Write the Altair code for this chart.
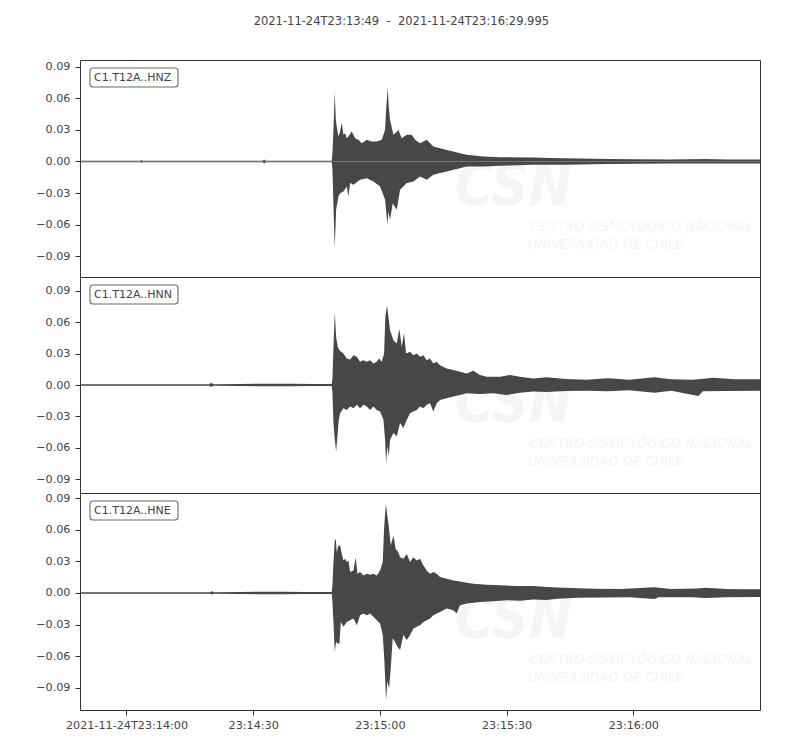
import altair as alt
import pandas as pd

TITLE = "2021-11-24T23:13:49\u00a0\u00a0-\u00a0\u00a02021-11-24T23:16:29.995"
channels = ["C1.T12A..HNZ", "C1.T12A..HNN", "C1.T12A..HNE"]
y_domains = [[-0.1095, 0.0962], [-0.1029, 0.1029], [-0.1114, 0.0952]]
panel_heights = [217, 216, 217]
x_domain = [0, 160.995]  # seconds after 23:13:49
y_ticks = [-0.09, -0.06, -0.03, 0.0, 0.03, 0.06, 0.09]
x_tick_seconds = [11, 41, 71, 101, 131]
x_tick_labels = ["2021-11-24T23:14:00", "23:14:30", "23:15:00", "23:15:30", "23:16:00"]
watermark_lines = ["CSN", "CENTRO SISMOLÓGICO NACIONAL", "UNIVERSIDAD DE CHILE"]

# envelopes (seconds after start, value)
hnz_upper = [(0, 0.0008), (14.3, 0.0008), (14.6, 0.0014), (14.9, 0.0008), (43.2, 0.0008), (43.6, 0.0020),
             (44.0, 0.0008), (59.6, 0.0008), (59.77, 0.0079), (60.01, 0.030), (60.32, 0.0663), (60.56, 0.040),
             (60.79, 0.0331), (61.19, 0.0237), (61.58, 0.0284), (61.98, 0.0369), (62.37, 0.0253), (62.77, 0.0268),
             (63.16, 0.0221), (63.55, 0.0237), (64.34, 0.0284), (65.13, 0.0221), (65.92, 0.0205), (66.71, 0.0174),
             (67.89, 0.0205), (69.07, 0.0189), (70.26, 0.0189), (71.44, 0.0205), (72.23, 0.0300), (72.47, 0.049),
             (72.86, 0.0701), (73.10, 0.052), (73.41, 0.0395), (74.20, 0.0253), (74.99, 0.028), (75.38, 0.030),
             (76.17, 0.0221), (77.36, 0.0253), (78.54, 0.0253), (79.33, 0.0205), (80.51, 0.0174), (82.09, 0.0205),
             (83.66, 0.0142), (85.24, 0.0126), (86.82, 0.011), (88.40, 0.0095), (89.97, 0.0079), (91.55, 0.0063),
             (95.49, 0.0047), (99.44, 0.0041), (107.32, 0.0038), (111.27, 0.0032), (118, 0.0028), (125, 0.0024),
             (132, 0.0022), (140, 0.0020), (148, 0.0024), (153, 0.0020), (160.995, 0.0020)]
hnz_lower = [(0, -0.0008), (14.3, -0.0008), (14.6, -0.0012), (14.9, -0.0008), (43.2, -0.0008), (43.6, -0.0018),
             (44.0, -0.0008), (59.6, -0.0008), (59.77, -0.0079), (60.01, -0.0426), (60.32, -0.0821), (60.64, -0.0458),
             (61.19, -0.0331), (61.58, -0.030), (62.37, -0.0284), (63.16, -0.0237), (63.55, -0.0331), (63.95, -0.0205),
             (64.74, -0.0221), (66.31, -0.0174), (67.89, -0.0158), (69.47, -0.0189), (71.05, -0.0237), (72.23, -0.0363),
             (72.78, -0.060), (73.02, -0.0473), (73.41, -0.0552), (74.04, -0.0395), (74.99, -0.0458), (75.78, -0.0268),
             (77.36, -0.0205), (78.93, -0.0189), (80.51, -0.0142), (82.09, -0.0174), (83.66, -0.0126), (85.24, -0.011),
             (86.82, -0.0095), (88.40, -0.0079), (89.97, -0.0063), (91.55, -0.0047), (95.49, -0.0047), (99.44, -0.0041),
             (107.32, -0.0032), (115, -0.0030), (125, -0.0024), (140, -0.0020), (160.995, -0.0020)]

hnn_upper = [(0, 0.0008), (30.6, 0.0008), (31.0, 0.0022), (31.6, 0.0008), (38, 0.0010), (42, 0.0013), (46, 0.0011),
             (50, 0.0012), (55, 0.0009), (59.6, 0.0009), (59.77, 0.0063), (60.01, 0.0363), (60.32, 0.0694),
             (60.64, 0.0458), (61.03, 0.0363), (61.43, 0.0331), (61.82, 0.0316), (62.37, 0.030), (63.16, 0.0253),
             (63.95, 0.0243), (64.74, 0.0284), (65.53, 0.0268), (66.31, 0.0221), (67.10, 0.0237), (67.89, 0.0221),
             (68.68, 0.0237), (69.47, 0.0205), (70.26, 0.0221), (70.81, 0.0253), (71.44, 0.0221), (71.99, 0.030),
             (72.31, 0.0663), (72.70, 0.0758), (73.02, 0.0647), (73.41, 0.0521), (74.20, 0.0426), (74.99, 0.0395),
             (75.62, 0.0537), (76.17, 0.0363), (76.72, 0.0496), (77.20, 0.030), (78.14, 0.0316), (78.93, 0.0284),
             (79.72, 0.030), (80.51, 0.0268), (81.30, 0.0284), (82.09, 0.0237), (82.88, 0.0253), (83.66, 0.0205),
             (84.45, 0.0221), (85.24, 0.0189), (86.82, 0.0158), (88.40, 0.0142), (89.97, 0.0126), (91.55, 0.011),
             (93.13, 0.0136), (94.70, 0.0095), (96.28, 0.0079), (99.44, 0.0079), (101.80, 0.0095), (104.17, 0.0079),
             (107.32, 0.0063), (110.48, 0.0073), (115, 0.0058), (120, 0.0050), (125, 0.0065), (130, 0.0050),
             (136, 0.0075), (140, 0.0055), (145, 0.0050), (150, 0.0070), (155, 0.0055), (160.995, 0.0055)]
hnn_lower = [(0, -0.0008), (30.6, -0.0008), (31.0, -0.0018), (31.6, -0.0008), (38, -0.0010), (42, -0.0012),
             (46, -0.0011), (50, -0.0012), (55, -0.0009), (59.6, -0.0009), (59.77, -0.0079), (60.01, -0.0363),
             (60.32, -0.0521), (60.64, -0.0631), (60.95, -0.0489), (61.27, -0.0331), (61.58, -0.0268), (62.37, -0.0221),
             (63.16, -0.0237), (63.95, -0.0205), (64.74, -0.0221), (65.53, -0.0189), (66.31, -0.0221), (67.10, -0.0189),
             (67.89, -0.0205), (68.68, -0.0237), (69.47, -0.0205), (70.26, -0.0237), (71.05, -0.0253), (71.84, -0.0331),
             (72.23, -0.0521), (72.47, -0.0742), (72.78, -0.0584), (73.10, -0.0679), (73.41, -0.0521), (74.20, -0.0458),
             (74.99, -0.0489), (75.78, -0.0363), (76.57, -0.041), (77.36, -0.0331), (78.14, -0.0268), (78.93, -0.0253),
             (79.72, -0.0237), (80.51, -0.0205), (81.30, -0.0221), (82.09, -0.0189), (82.88, -0.0174), (83.66, -0.0253),
             (84.45, -0.0174), (85.24, -0.0142), (86.82, -0.0126), (88.40, -0.011), (89.97, -0.0095), (91.55, -0.0079),
             (94.70, -0.0085), (97.86, -0.0079), (101.01, -0.0095), (104.17, -0.0073), (107.32, -0.0063),
             (110.48, -0.0066), (115, -0.0058), (120, -0.0055), (125, -0.0060), (130, -0.0050), (136, -0.0075),
             (140, -0.0055), (146.4, -0.0104), (147.5, -0.0060), (153, -0.0058), (160.995, -0.0055)]

hne_upper = [(0, 0.0008), (30.8, 0.0008), (31.2, 0.0016), (31.7, 0.0008), (38, 0.0009), (43, 0.0012), (48, 0.0011),
             (53, 0.0009), (59.6, 0.0009), (59.77, 0.0073), (60.01, 0.0294), (60.32, 0.0499), (60.56, 0.0515),
             (60.79, 0.0388), (61.19, 0.0451), (61.58, 0.0451), (61.98, 0.0372), (62.37, 0.0309), (62.77, 0.0325),
             (63.16, 0.0294), (63.55, 0.0309), (63.95, 0.0199), (64.74, 0.0215), (65.29, 0.0341), (65.68, 0.0183),
             (66.31, 0.0199), (67.10, 0.0167), (67.89, 0.0183), (68.68, 0.0174), (69.47, 0.0183), (70.26, 0.0167),
             (71.05, 0.0215), (71.68, 0.0294), (71.99, 0.0609), (72.39, 0.0846), (72.78, 0.0735), (73.18, 0.0609),
             (73.57, 0.0451), (74.20, 0.0546), (74.75, 0.042), (75.38, 0.0388), (75.78, 0.0341), (76.57, 0.0325),
             (77.36, 0.0372), (78.14, 0.0294), (78.93, 0.0341), (79.72, 0.0309), (80.51, 0.0325), (81.30, 0.0262),
             (82.09, 0.0215), (82.88, 0.0183), (83.66, 0.0199), (84.45, 0.0183), (85.24, 0.0152), (86.82, 0.0136),
             (88.40, 0.012), (89.97, 0.011), (91.55, 0.0098), (93.13, 0.0088), (96.28, 0.0079), (99.44, 0.0073),
             (103.38, 0.0066), (107.32, 0.0066), (110.48, 0.0057), (113, 0.0052), (118, 0.0045), (122, 0.0040),
             (128, 0.0038), (136, 0.0055), (140, 0.0038), (146, 0.0042), (148, 0.0050), (153, 0.0038), (157, 0.0035),
             (160.995, 0.0035)]
hne_lower = [(0, -0.0008), (30.8, -0.0008), (31.2, -0.0014), (31.7, -0.0008), (38, -0.0009), (43, -0.0012),
             (48, -0.0011), (53, -0.0009), (59.6, -0.0009), (59.77, -0.0085), (60.01, -0.0275), (60.32, -0.0559),
             (60.64, -0.0464), (60.95, -0.048), (61.43, -0.048), (61.74, -0.0275), (62.37, -0.0322), (63.16, -0.0275),
             (63.95, -0.0259), (64.74, -0.0243), (65.53, -0.0306), (66.31, -0.0211), (67.10, -0.0196), (67.89, -0.0211),
             (68.68, -0.0196), (69.47, -0.0227), (70.26, -0.0259), (71.05, -0.029), (71.68, -0.0401), (72.07, -0.0653),
             (72.47, -0.1016), (72.78, -0.0843), (73.18, -0.0906), (73.57, -0.0717), (74.04, -0.0432), (74.60, -0.0464),
             (75.15, -0.0511), (75.78, -0.0543), (76.57, -0.0401), (77.36, -0.0448), (78.14, -0.0401), (78.93, -0.0338),
             (79.72, -0.0322), (80.51, -0.0306), (81.30, -0.0275), (82.09, -0.0259), (82.88, -0.0243), (83.66, -0.0211),
             (85.24, -0.018), (86.82, -0.0148), (88.40, -0.0164), (89.18, -0.0196), (89.97, -0.0117), (91.55, -0.0101),
             (94.70, -0.0085), (97.86, -0.0079), (101.01, -0.0069), (104.17, -0.0073), (107.32, -0.0063),
             (110.48, -0.0066), (113, -0.0055), (118, -0.0045), (124, -0.0042), (130, -0.0040), (136, -0.0058),
             (137, -0.0040), (145, -0.0040), (148, -0.0048), (153, -0.0040), (160.995, -0.0038)]

traces = [(hnz_upper, hnz_lower), (hnn_upper, hnn_lower), (hne_upper, hne_lower)]

WAVE = "#474747"
TEXT = "#444444"
WM = "#f5f5f5"
FONT = "DejaVu Sans"
WM_FONT = "'DejaVu Sans Condensed', 'Liberation Sans', sans-serif"

label_expr = "[" + ",".join("'%s'" % s for s in x_tick_labels) + "][indexof([" + \
    ",".join(str(v) for v in x_tick_seconds) + "], datum.value)]"

one = pd.DataFrame({"a": [0]})


def panel(i, show_x):
    upper, lower = traces[i]
    up = pd.DataFrame(upper, columns=["t", "v"])
    lo = pd.DataFrame(lower, columns=["t", "v"])
    xscale = alt.Scale(domain=x_domain, nice=False, zero=False)
    yscale = alt.Scale(domain=y_domains[i], nice=False, zero=False)
    if show_x:
        xaxis = alt.Axis(values=x_tick_seconds, labelExpr=label_expr, title=None, grid=False,
                         domain=False, tickSize=5, labelPadding=4)
    else:
        xaxis = None
    yaxis = alt.Axis(values=y_ticks, format=".2f", title=None, grid=False, domain=False,
                     tickSize=5, labelPadding=5)

    wm_csn = alt.Chart(one).mark_text(text=watermark_lines[0], font=WM_FONT, fontSize=58,
                                      fontStyle="italic", fontWeight="bold", color=WM, align="left",
                                      baseline="alphabetic").encode(x=alt.value(375), y=alt.value(145))
    wm_l1 = alt.Chart(one).mark_text(text=watermark_lines[1], font=WM_FONT, fontSize=14.5,
                                     fontStyle="italic", color=WM, align="left",
                                     baseline="alphabetic").encode(x=alt.value(450), y=alt.value(171))
    wm_l2 = alt.Chart(one).mark_text(text=watermark_lines[2], font=WM_FONT, fontSize=14.5,
                                     fontStyle="italic", color=WM, align="left",
                                     baseline="alphabetic").encode(x=alt.value(448), y=alt.value(189))

    a_up = alt.Chart(up).mark_area(color=WAVE, interpolate="linear").encode(
        x=alt.X("t:Q", scale=xscale, axis=xaxis),
        y=alt.Y("v:Q", scale=yscale, axis=yaxis),
        y2=alt.datum(0),
    )
    a_lo = alt.Chart(lo).mark_area(color=WAVE, interpolate="linear").encode(
        x=alt.X("t:Q", scale=xscale, axis=xaxis),
        y=alt.Y("v:Q", scale=yscale, axis=yaxis),
        y2=alt.datum(0),
    )
    box = alt.Chart(one).mark_rect(fill="white", stroke="#6a6a6a", strokeWidth=1.1, cornerRadius=3).encode(
        x=alt.value(10), x2=alt.value(98), y=alt.value(8), y2=alt.value(27))
    lab = alt.Chart(one).mark_text(text=channels[i], font=FONT, fontSize=11, color=TEXT, align="left",
                                   baseline="middle").encode(x=alt.value(14), y=alt.value(17.5))
    return alt.layer(wm_csn, wm_l1, wm_l2, a_up, a_lo, box, lab).properties(
        width=680, height=panel_heights[i])


chart = alt.vconcat(
    panel(0, False), panel(1, False), panel(2, True), spacing=0, bounds="flush"
).properties(
    title=alt.TitleParams(TITLE, fontSize=11.5, fontWeight="normal", color=TEXT, font=FONT,
                          anchor="middle", offset=32, dx=3.5),
    padding={"left": 27, "top": 8, "right": 10, "bottom": 2},
).configure_view(
    stroke="#333333", strokeWidth=1
).configure_axis(
    labelFont=FONT, labelFontSize=11.2, labelColor=TEXT, tickColor="#333333", tickWidth=1
).configure_axisY(
    minExtent=40, maxExtent=40
)

chart.save("out.html", embed_options={"renderer": "svg", "actions": False})
